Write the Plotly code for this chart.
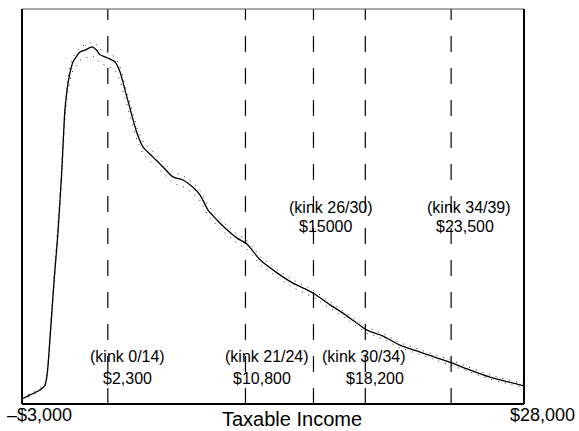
import plotly.graph_objects as go

# Taxable income grid (thousands of $)
income_k = [-3.0, -2.5, -2.0, -1.6, -1.5, -1.4, -1.2, -1.0, -0.78, -0.55, -0.35, -0.2,
            -0.04, 0.15, 0.58, 0.9, 1.32, 1.6, 1.82, 2.3, 2.75, 3.05, 3.48, 4.1, 4.47,
            5.09, 5.71, 6.32, 6.94, 7.56, 8.0, 8.49, 9.04, 9.66, 10.28, 10.89, 11.7,
            12.75, 13.73, 14.6, 15.09, 16.02, 16.82, 17.56, 18.3, 19.29, 20.34, 21.76,
            23.55, 24.48, 25.9, 28.0]

# Smoothed density (arbitrary units)
density = [1.3, 2.3, 3.3, 4.6, 6.1, 9.4, 20.8, 32.2, 43.3, 58.5, 74.4, 80.0,
           83.8, 86.6, 89.1, 89.6, 90.4, 89.6, 88.4, 87.6, 86.6, 84.1, 77.7, 68.6, 65.1,
           62.5, 60.0, 57.5, 56.7, 54.9, 52.9, 49.1, 46.6, 44.1, 42.0, 40.5, 36.5,
           33.2, 30.6, 28.9, 27.8, 25.1, 23.0, 20.8, 18.7, 17.2, 14.9, 12.9,
           10.4, 8.9, 6.8, 4.6]

# Upper and lower dotted bands
upper = [1.6, 2.6, 3.6, 5.0, 6.5, 10.0, 21.6, 33.2, 44.4, 59.7, 75.6, 81.3,
         85.1, 87.9, 90.4, 91.0, 91.6, 91.0, 89.8, 88.9, 87.9, 85.4, 79.0, 69.9, 66.3,
         63.7, 61.2, 58.7, 57.8, 56.0, 54.0, 50.2, 47.6, 45.1, 43.0, 41.4, 37.4,
         34.0, 31.4, 29.7, 28.5, 25.8, 23.7, 21.5, 19.4, 17.8, 15.5, 13.5,
         11.0, 9.5, 7.3, 5.1]
lower = [1.0, 2.0, 3.0, 4.2, 5.6, 8.8, 20.0, 31.0, 42.0, 57.0, 72.6, 78.2,
         81.9, 84.6, 87.0, 87.5, 88.2, 87.5, 86.3, 85.5, 84.5, 82.0, 75.8, 66.8, 63.3,
         60.8, 58.4, 55.9, 55.1, 53.3, 51.4, 47.7, 45.2, 42.8, 40.7, 39.2, 35.3,
         32.1, 29.5, 27.9, 26.8, 24.2, 22.2, 20.0, 17.9, 16.5, 14.2, 12.3,
         9.8, 8.4, 6.3, 4.1]

# Kinks
kink_income = [2300, 10800, 15000, 18200, 23500]
kink_name = ["(kink 0/14)", "(kink 21/24)", "(kink 26/30)", "(kink 30/34)", "(kink 34/39)"]
kink_label = ["$2,300", "$10,800", "$15000", "$18,200", "$23,500"]

x_min, x_max = -3000, 28000
tick_labels = ["\u2013$3,000", "$28,000"]
x_title = "Taxable Income"

income = [v * 1000 for v in income_k]

fig = go.Figure()
for band in (upper, lower):
    fig.add_trace(go.Scatter(x=income, y=band, mode="lines",
                             line=dict(color="#222222", width=1, dash="1px,6px"),
                             hoverinfo="skip", showlegend=False))
fig.add_trace(go.Scatter(x=income, y=density, mode="lines",
                         line=dict(color="black", width=1.3, shape="spline", smoothing=0.6),
                         showlegend=False))

# dashed kink lines (drawn bottom to top)
for k in kink_income:
    fig.add_shape(type="line", xref="x", yref="paper", x0=k, x1=k, y0=0, y1=1,
                  line=dict(color="black", width=1.2, dash="16px,16px"), layer="above")

# frame
fig.add_shape(type="line", xref="paper", yref="paper", x0=0, x1=1, y0=1, y1=1,
              line=dict(color="#555555", width=1))
fig.add_shape(type="line", xref="paper", yref="paper", x0=0, x1=0, y0=0, y1=1,
              line=dict(color="black", width=2))
fig.add_shape(type="line", xref="paper", yref="paper", x0=1, x1=1, y0=0, y1=1,
              line=dict(color="black", width=2))
fig.add_shape(type="line", xref="paper", yref="paper", x0=0, x1=1, y0=0, y1=0,
              line=dict(color="black", width=2))

font = dict(family="Liberation Sans, Arial, sans-serif", color="black")
# text positions (paper coords)
name_pos = [(0.2102, 0.1215), (0.489, 0.1215), (0.6155, 0.4987), (0.6813, 0.1215), (0.8904, 0.4987)]
label_pos = [(0.2102, 0.0658), (0.4771, 0.0658), (0.6036, 0.4506), (0.7032, 0.0658), (0.8815, 0.4506)]
for nm, lb, (nx, ny), (lx, ly) in zip(kink_name, kink_label, name_pos, label_pos):
    fig.add_annotation(text=nm, xref="paper", yref="paper", x=nx, y=ny,
                       xanchor="center", yanchor="middle", showarrow=False,
                       font=dict(size=16, **font))
    fig.add_annotation(text=lb, xref="paper", yref="paper", x=lx, y=ly,
                       xanchor="center", yanchor="middle", showarrow=False,
                       font=dict(size=16, **font))

fig.add_annotation(text=tick_labels[0], xref="paper", yref="paper", x=0.0349, y=-0.029,
                   xanchor="center", yanchor="middle", showarrow=False, font=dict(size=18, **font))
fig.add_annotation(text=tick_labels[1], xref="paper", yref="paper", x=1.0359, y=-0.029,
                   xanchor="center", yanchor="middle", showarrow=False, font=dict(size=18, **font))
fig.add_annotation(text=x_title, xref="paper", yref="paper", x=0.5388, y=-0.039,
                   xanchor="center", yanchor="middle", showarrow=False, font=dict(size=20, **font))

fig.update_layout(
    width=579, height=431,
    margin=dict(l=22, r=55, t=9, b=27),
    paper_bgcolor="white", plot_bgcolor="white",
    xaxis=dict(range=[x_min, x_max], showgrid=False, zeroline=False,
               showticklabels=False, ticks="", showline=False),
    yaxis=dict(range=[0, 100], showgrid=False, zeroline=False,
               showticklabels=False, ticks="", showline=False),
    showlegend=False,
)

fig.write_html("out.html", config={"displayModeBar": False},
               post_script="document.body.style.margin='0';document.body.style.overflow='hidden';")
